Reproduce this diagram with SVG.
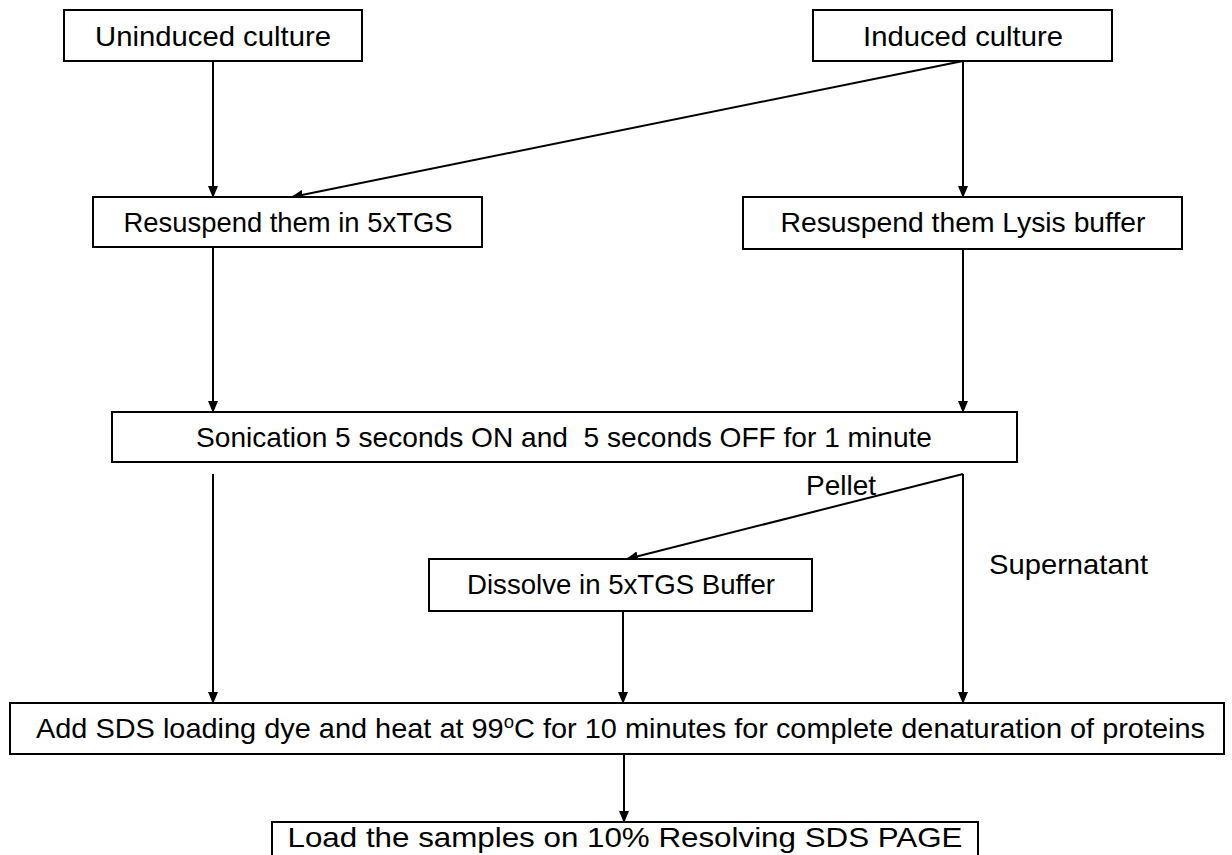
<svg xmlns="http://www.w3.org/2000/svg" width="1232" height="855" viewBox="0 0 1232 855">
<style>
  .box { fill: #ffffff; stroke: #000000; stroke-width: 2; }
  .t { font-family: "Liberation Sans", Arial, sans-serif; font-size: 28px; fill: #000000; }
  .c { text-anchor: middle; }
  .conn { stroke: #000000; stroke-width: 2; fill: none; marker-end: url(#arr); }
</style>
<defs>
  <marker id="arr" markerUnits="userSpaceOnUse" markerWidth="12" markerHeight="10" refX="11" refY="5" orient="auto">
    <path d="M0,0 L12,5 L0,10 Z" fill="#000000"/>
  </marker>
</defs>
<rect width="1232" height="855" fill="#ffffff"/>
<g id="connectors">
  <line class="conn" x1="213" y1="61" x2="213" y2="197"/>
  <line class="conn" x1="963" y1="61" x2="292" y2="197"/>
  <line class="conn" x1="963" y1="61" x2="963" y2="197"/>
  <line class="conn" x1="213" y1="248" x2="213" y2="412"/>
  <line class="conn" x1="963" y1="249" x2="963" y2="412"/>
  <line class="conn" x1="213" y1="474" x2="213" y2="703"/>
  <line class="conn" x1="963" y1="474" x2="627" y2="559"/>
  <line class="conn" x1="963" y1="474" x2="963" y2="703"/>
  <line class="conn" x1="623" y1="611" x2="623" y2="703"/>
  <line class="conn" x1="624" y1="754" x2="624" y2="822"/>
</g>
<g id="uninduced">
  <rect class="box" x="64" y="10" width="298" height="51"/>
  <text class="t c" x="213" y="46" textLength="236" lengthAdjust="spacingAndGlyphs">Uninduced culture</text>
</g>
<g id="induced">
  <rect class="box" x="813" y="10" width="299" height="51"/>
  <text class="t c" x="963" y="46" textLength="200" lengthAdjust="spacingAndGlyphs">Induced culture</text>
</g>
<g id="resuspend-tgs">
  <rect class="box" x="93" y="197" width="389" height="50"/>
  <text class="t c" x="288" y="232" textLength="329" lengthAdjust="spacingAndGlyphs">Resuspend them in 5xTGS</text>
</g>
<g id="resuspend-lysis">
  <rect class="box" x="743" y="197" width="439" height="52"/>
  <text class="t c" x="963" y="232" textLength="365" lengthAdjust="spacingAndGlyphs">Resuspend them Lysis buffer</text>
</g>
<g id="sonication">
  <rect class="box" x="112" y="412" width="905" height="50"/>
  <text class="t c" x="564" y="447" textLength="736" lengthAdjust="spacingAndGlyphs" xml:space="preserve">Sonication 5 seconds ON and  5 seconds OFF for 1 minute</text>
</g>
<g id="pellet-label">
  <text class="t" x="806" y="495" textLength="70" lengthAdjust="spacingAndGlyphs">Pellet</text>
</g>
<g id="supernatant-label">
  <text class="t" x="989" y="574" textLength="159" lengthAdjust="spacingAndGlyphs">Supernatant</text>
</g>
<g id="dissolve">
  <rect class="box" x="429" y="559" width="383" height="52"/>
  <text class="t c" x="621" y="594" textLength="308" lengthAdjust="spacingAndGlyphs">Dissolve in 5xTGS Buffer</text>
</g>
<g id="sds-heat">
  <rect class="box" x="10" y="703" width="1214" height="51"/>
  <text class="t" x="36" y="738" textLength="1169" lengthAdjust="spacingAndGlyphs">Add SDS loading dye and heat at 99<tspan font-size="18" dy="-10">o</tspan><tspan dy="10">C for 10 minutes for complete denaturation of proteins</tspan></text>
</g>
<g id="load-page">
  <rect class="box" x="272" y="822" width="706" height="50"/>
  <text class="t c" x="625" y="847" textLength="675" lengthAdjust="spacingAndGlyphs">Load the samples on 10% Resolving SDS PAGE</text>
</g>
</svg>
